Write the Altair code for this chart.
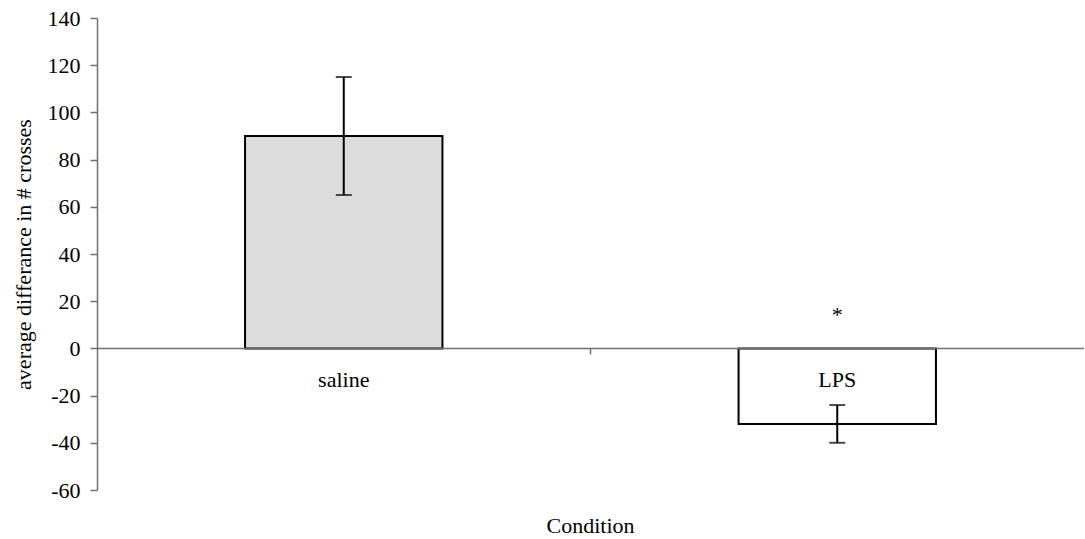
import altair as alt
import pandas as pd

conditions = ["saline", "LPS"]
means = [90, -32]
errors = [25, 8]
fills = ["#dcdcdc", "#ffffff"]
sig_marks = ["", "*"]
sig_y = [None, 15]
y_ticks = [-60, -40, -20, 0, 20, 40, 60, 80, 100, 120, 140]

W, H = 987, 472
FONT = "Liberation Serif"
FS = 22

df = pd.DataFrame({
    "cond": conditions,
    "mean": means,
    "lo": [m - e for m, e in zip(means, errors)],
    "hi": [m + e for m, e in zip(means, errors)],
    "fill": fills,
})
sig_df = pd.DataFrame({"cond": [c for c, s in zip(conditions, sig_marks) if s],
                       "y": [v for v, s in zip(sig_y, sig_marks) if s],
                       "t": [s for s in sig_marks if s]})

xscale = alt.Scale(domain=conditions, paddingInner=0.6, paddingOuter=0.3)
yscale = alt.Scale(domain=[-60, 140], nice=False, zero=False)

x = alt.X("cond:N", scale=xscale, sort=conditions, axis=None)

base = alt.Chart(df)

bars = base.mark_bar(stroke="black", strokeWidth=2).encode(
    x=x,
    y=alt.Y("mean:Q", scale=yscale,
            axis=alt.Axis(values=y_ticks, grid=False, domainColor="#707070",
                          domainWidth=1.5, tickColor="#707070", tickWidth=1.5,
                          tickSize=7, labelFont=FONT, labelFontSize=FS,
                          labelExpr="'' + datum.value",
                          labelColor="black", labelPadding=10,
                          title="average differance in # crosses",
                          titleFont=FONT, titleFontSize=FS, titleFontWeight="normal",
                          titleColor="black", titlePadding=12)),
    y2=alt.datum(0),
    fill=alt.Fill("fill:N", scale=None),
)

zero = alt.Chart(pd.DataFrame({"z": [0]})).mark_rule(color="#707070", strokeWidth=1.5).encode(
    y=alt.Y("z:Q", scale=yscale),
    x=alt.value(0), x2=alt.value(W),
)

mid_tick = alt.Chart(pd.DataFrame({"z": [0]})).mark_rule(color="#707070", strokeWidth=1.5).encode(
    x=alt.value(W / 2),
    y=alt.Y("z:Q", scale=yscale),
    y2=alt.value(H * 140 / 200 + 6),
)

err = base.mark_rule(color="black", strokeWidth=2).encode(
    x=x, y=alt.Y("lo:Q", scale=yscale), y2="hi:Q")
cap_lo = base.mark_tick(color="black", thickness=2, size=16, orient="horizontal").encode(
    x=x, y=alt.Y("lo:Q", scale=yscale))
cap_hi = base.mark_tick(color="black", thickness=2, size=16, orient="horizontal").encode(
    x=x, y=alt.Y("hi:Q", scale=yscale))

labels = alt.Chart(pd.DataFrame({"cond": conditions, "z": [0, 0]})).mark_text(
    font=FONT, fontSize=FS, baseline="alphabetic", dy=39, color="black").encode(
    x=x, y=alt.Y("z:Q", scale=yscale), text="cond:N")

sig = alt.Chart(sig_df).mark_text(font=FONT, fontSize=FS, baseline="middle", dy=2, color="black").encode(
    x=x, y=alt.Y("y:Q", scale=yscale), text="t:N")

xtitle = alt.Chart(pd.DataFrame({"t": ["Condition"]})).mark_text(
    font=FONT, fontSize=FS, baseline="alphabetic", color="black").encode(
    x=alt.value(W / 2), y=alt.value(H + 43), text="t:N")

chart = alt.layer(bars, zero, mid_tick, err, cap_lo, cap_hi, labels, sig, xtitle).properties(
    width=W, height=H,
    background="white",
    autosize=alt.AutoSizeParams(type="none"),
    padding={"left": 97, "top": 18, "right": 1, "bottom": 49},
).configure_view(strokeWidth=0, stroke="transparent")

chart.save("out.html", embed_options={"renderer": "svg", "actions": False})
